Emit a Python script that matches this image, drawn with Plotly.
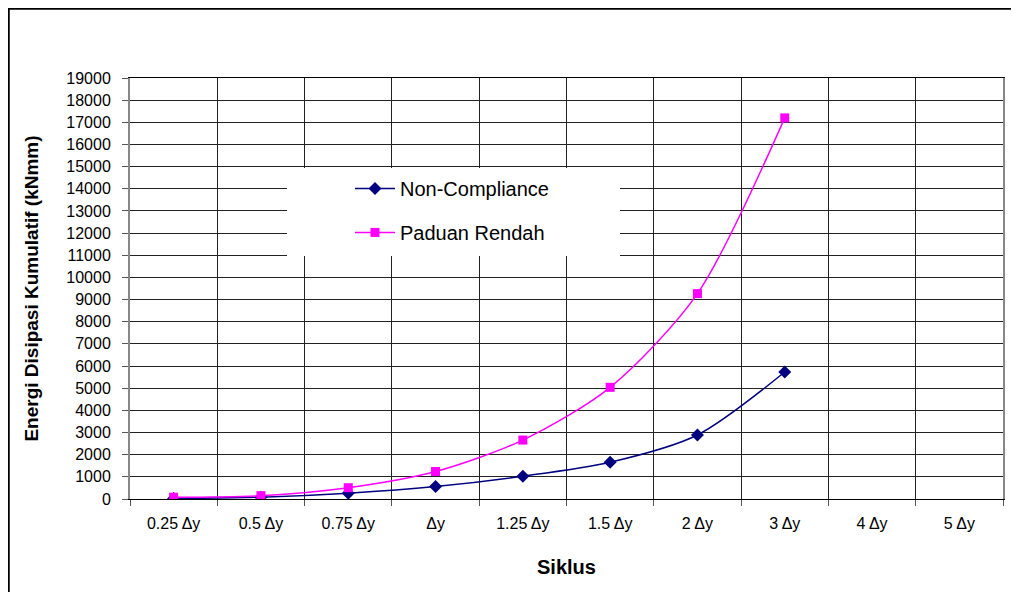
import plotly.graph_objects as go

categories = ["0.25 \u0394y", "0.5 \u0394y", "0.75 \u0394y", "\u0394y", "1.25 \u0394y",
              "1.5 \u0394y", "2 \u0394y", "3 \u0394y", "4 \u0394y", "5 \u0394y"]
non_compliance = [20, 80, 260, 560, 1030, 1660, 2890, 5730, None, None]
paduan_rendah = [80, 150, 510, 1240, 2660, 5040, 9270, 17200, None, None]
y_ticks = list(range(0, 19001, 1000))

FONT = "Arial, Liberation Sans, sans-serif"

fig = go.Figure()
fig.add_trace(go.Scatter(
    x=categories, y=non_compliance, name="Non-Compliance", legendgroup="a",
    mode="lines+markers", line=dict(color="#000080", width=1.5, shape="spline", smoothing=0.8),
    marker=dict(symbol="diamond", size=10, color="#000080"),
))
fig.add_trace(go.Scatter(
    x=categories, y=paduan_rendah, name="Paduan Rendah", legendgroup="b",
    mode="lines+markers", line=dict(color="#FF00FF", width=1.5, shape="spline", smoothing=0.8),
    marker=dict(symbol="square", size=9, color="#FF00FF"),
))

W, H = 1011, 584
L, R, T, B = 122, 16, 70, 93
PW, PH = W - L - R, H - T - B  # 873 x 421

fig.update_layout(
    width=W, height=H,
    margin=dict(l=L, r=R, t=T, b=B),
    paper_bgcolor="white", plot_bgcolor="white",
    font=dict(family=FONT, size=16, color="black"),
    showlegend=True,
    legend=dict(x=0.252, y=0.784, xanchor="left", yanchor="top",
                bgcolor="rgba(0,0,0,0)", font=dict(size=20, family=FONT),
                tracegroupgap=15, itemwidth=40),
    shapes=[
        dict(type="rect", xref="paper", yref="paper", x0=(287-130)/PW, x1=(620-130)/PW,
             y0=(499-256)/PH, y1=(499-168)/PH, fillcolor="white", line=dict(width=0),
             layer="above"),
        dict(type="rect", xref="paper", yref="paper", x0=(0.5 - L)/PW, x1=1.1,
             y0=-0.4, y1=1 + (T - 0.5)/PH, fillcolor="rgba(0,0,0,0)",
             line=dict(color="black", width=2.5), layer="below"),
    ],
)

fig.update_xaxes(
    type="category", categoryorder="array", categoryarray=categories,
    range=[-0.5, 9.5], tickson="boundaries",
    showgrid=True, gridcolor="#222222", gridwidth=1,
    showline=True, linecolor="black", linewidth=1, mirror=True,
    ticks="outside", ticklen=6, tickcolor="#555555",
    tickfont=dict(size=16, family=FONT), ticklabelstandoff=10,
    title=dict(text="<b>Siklus</b>", font=dict(size=20, family=FONT), standoff=28),
    fixedrange=True,
)
fig.update_yaxes(
    range=[0, 19000], tickvals=y_ticks, ticktext=[str(v) for v in y_ticks],
    showgrid=True, gridcolor="#222222", gridwidth=1,
    showline=True, linecolor="#888888", linewidth=2, mirror=True,
    ticks="outside", ticklen=6, tickcolor="#555555",
    tickfont=dict(size=16, family=FONT), ticklabelstandoff=8,
    title=dict(text="<b>Energi Disipasi Kumulatif (kNmm)</b>", font=dict(size=19, family=FONT), standoff=23),
    zeroline=False, fixedrange=True,
)

fig.write_html("out.html")
